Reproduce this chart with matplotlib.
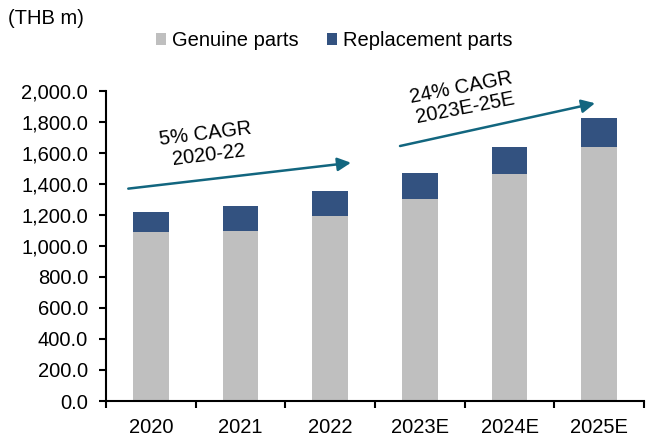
import matplotlib
matplotlib.use("Agg")
import matplotlib.pyplot as plt
import numpy as np

plt.rcParams['font.family'] = ['Liberation Sans', 'DejaVu Sans']

years = ["2020", "2021", "2022", "2023E", "2024E", "2025E"]
genuine = [1090, 1097, 1192, 1304, 1462, 1641]
totals = [1222, 1255, 1352, 1471, 1639, 1825]
replacement = [t - g for t, g in zip(totals, genuine)]
yticks = [0, 200, 400, 600, 800, 1000, 1200, 1400, 1600, 1800, 2000]

GREY = "#BFBFBF"
BLUE = "#335280"
TEAL = "#12667F"
FS = 14.5

fig = plt.figure(figsize=(6.46, 4.41), dpi=100)
ax = fig.add_axes([0.164, 0.0907, 0.833, 0.703])

x = np.arange(len(years))
ax.bar(x, genuine, width=0.40, color=GREY, label="Genuine parts", zorder=2)
ax.bar(x, replacement, width=0.40, bottom=genuine, color=BLUE, label="Replacement parts", zorder=2)

ax.set_xlim(-0.5, len(years) - 0.5)
ax.set_ylim(0, 2000)
ax.set_yticks(yticks)
ax.set_yticklabels([f"{v:,.1f}" for v in yticks])
ax.set_xticks(x)
ax.set_xticklabels(years)
ax.set_xticks(np.arange(-0.5, len(years)), minor=True)
ax.tick_params(axis='x', which='major', length=0, pad=12, labelsize=FS)
ax.tick_params(axis='x', which='minor', length=5, width=1.5, direction='out')
ax.tick_params(axis='y', length=5, width=1.5, direction='out', labelsize=FS, pad=8)
for s in ['top', 'right']:
    ax.spines[s].set_visible(False)
for s in ['left', 'bottom']:
    ax.spines[s].set_linewidth(1.5)

# CAGR arrows
ax.annotate("", xy=(2.232, 1537), xytext=(-0.251, 1370),
            arrowprops=dict(arrowstyle='-|>', color=TEAL, lw=1.8, mutation_scale=20, shrinkA=0, shrinkB=0))
ax.annotate("", xy=(4.953, 1921), xytext=(2.779, 1645),
            arrowprops=dict(arrowstyle='-|>', color=TEAL, lw=1.8, mutation_scale=20, shrinkA=0, shrinkB=0))
ax.text(0.627, 1655, "5% CAGR\n2020-22", ha='center', va='center', rotation=7,
        fontsize=FS, linespacing=1.15, rotation_mode='anchor')
ax.text(3.481, 1955, "24% CAGR\n2023E-25E", ha='center', va='center', rotation=11,
        fontsize=FS, linespacing=1.15, rotation_mode='anchor', clip_on=False)

fig.text(0.012, 0.958, "(THB m)", ha='left', va='center', fontsize=FS)
fig.legend(loc='center', bbox_to_anchor=(0.518, 0.908), ncol=2, frameon=False,
           fontsize=FS, handlelength=0.5, handleheight=0.5, handletextpad=0.3,
           columnspacing=1.4)

fig.savefig("out.png", dpi=100)
